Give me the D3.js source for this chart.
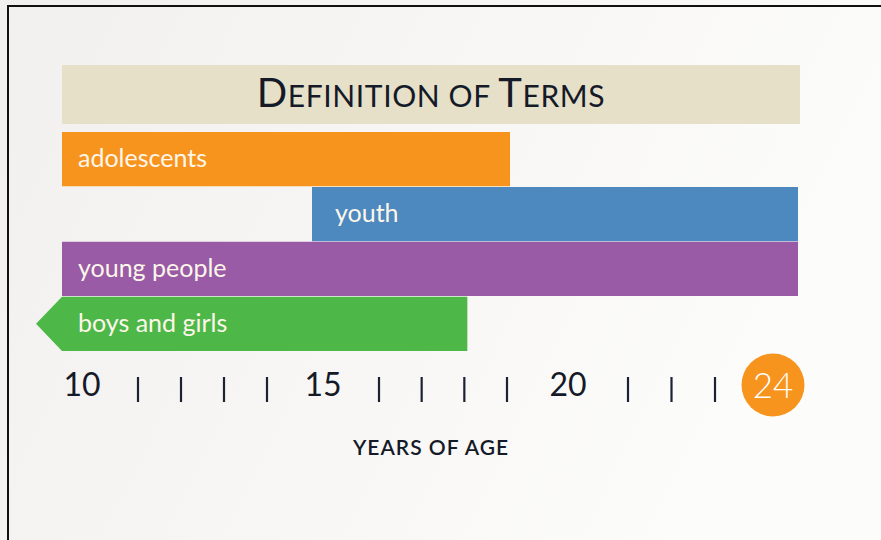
<!DOCTYPE html>
<html>
<head>
<meta charset="utf-8">
<script src="https://cdn.jsdelivr.net/npm/d3@7"></script>
<style>
  html, body { margin: 0; padding: 0; background: #fff; }
  svg { display: block; }
</style>
</head>
<body>
<div id="chart"></div>
<script>
// Terms and the age span each one covers
var terms = ["adolescents", "youth", "young people", "boys and girls"];
var startAge = [10, 15, 10, 10];
var endAge = [19, 24, 24, 18];
var openBelow = [false, false, false, true];   // "boys and girls": under 18, no lower bound
var termColors = ["#f7941e", "#4d89bf", "#995ba5", "#4db848"];

// Axis: every year gets a tick, a few get a number
var tickAges = [10, 11, 12, 13, 14, 15, 16, 17, 18, 19, 20, 21, 22, 23, 24];
var labelAges = [10, 15, 20, 24];
var highlightAge = 24;

var titleCap = ["D", "T"];
var titleRest = ["EFINITION OF ", "ERMS"];
var axisTitle = "YEARS OF AGE";

(function () {
  var W = 881, H = 540;
  var left = 62, right = 800;
  var FONT = "Lato, 'Open Sans', sans-serif";

  var svg = d3.select("#chart").append("svg")
    .attr("width", W).attr("height", H);

  var defs = svg.append("defs");
  var grad = defs.append("linearGradient").attr("id", "bg")
    .attr("x1", "0").attr("x2", "1").attr("y1", "0").attr("y2", "0.3");
  grad.append("stop").attr("offset", "0").attr("stop-color", "#f2f0ee");
  grad.append("stop").attr("offset", "1").attr("stop-color", "#fcfcfb");

  svg.append("rect").attr("width", W).attr("height", H).attr("fill", "url(#bg)");
  // frame: top and left edges only show in the picture
  svg.append("path").attr("d", "M8,540V6H881")
    .attr("fill", "none").attr("stroke", "#111").attr("stroke-width", 2);

  // the axis labels take wider slots than the plain ticks,
  // so the age scale is piecewise linear
  var x = d3.scaleLinear()
    .domain([10, 11, 14, 15, 16, 19, 20, 21, 23, 24])
    .range([82, 138, 267, 323, 379, 507, 568, 628, 715, 773]);

  var y = d3.scaleBand().domain(terms).range([132, 351]).paddingInner(0.01);

  // title band
  svg.append("rect").attr("x", left).attr("y", 65)
    .attr("width", right - left).attr("height", 59).attr("fill", "#e7e0c9");
  var title = svg.append("text")
    .attr("x", (left + right) / 2).attr("y", 107)
    .attr("text-anchor", "middle")
    .attr("font-family", FONT).attr("fill", "#151a28")
    .attr("letter-spacing", 0.6);
  titleCap.forEach(function (c, i) {
    title.append("tspan").attr("font-size", 40).text(c);
    title.append("tspan").attr("font-size", 30).text(titleRest[i]);
  });

  var xmin = d3.min(tickAges), xmax = d3.max(tickAges);
  function x0(i) { return startAge[i] === xmin ? left : x(startAge[i]) - 11; }
  function x1(i) { return endAge[i] === xmax ? right - 2 : x(endAge[i]) + 3; }

  var bars = svg.append("g").selectAll("g").data(terms).join("g");
  bars.append("path")
    .attr("fill", function (d, i) { return termColors[i]; })
    .attr("d", function (d, i) {
      var a = x0(i), b = x1(i), t = y(d), h = y.bandwidth();
      var p = d3.path();
      p.moveTo(a, t);
      p.lineTo(b, t);
      p.lineTo(b, t + h);
      p.lineTo(a, t + h);
      if (openBelow[i]) p.lineTo(a - 26, t + h / 2);
      p.closePath();
      return p.toString();
    });
  bars.append("text")
    .attr("x", function (d, i) { return x0(i) + (startAge[i] === xmin ? 16 : 23); })
    .attr("y", function (d) { return y(d) + y.bandwidth() / 2 + 8; })
    .attr("font-family", FONT).attr("font-size", 25)
    .attr("fill", "#fdf6ea")
    .text(function (d) { return d; });

  // axis: numbers at labelled ages, bars elsewhere
  var axisY = 396;
  var ax = svg.append("g");
  ax.selectAll("line").data(tickAges.filter(function (a) { return labelAges.indexOf(a) < 0; }))
    .join("line")
    .attr("x1", x).attr("x2", x)
    .attr("y1", 377).attr("y2", 402)
    .attr("stroke", "#1c2134").attr("stroke-width", 2.2);
  ax.selectAll("circle").data([highlightAge]).join("circle")
    .attr("cx", x).attr("cy", 385).attr("r", 31.5)
    .attr("fill", "#f7941e");
  ax.selectAll("text").data(labelAges).join("text")
    .attr("x", x)
    .attr("y", function (a) { return a === highlightAge ? 398 : axisY; })
    .attr("text-anchor", "middle")
    .attr("font-family", FONT)
    .attr("font-weight", function (a) { return a === highlightAge ? 300 : 400; })
    .attr("font-size", function (a) { return a === highlightAge ? 35 : 32; })
    .attr("fill", function (a) { return a === highlightAge ? "#fff" : "#151a28"; })
    .text(function (a) { return a; });

  svg.append("text")
    .attr("x", 431).attr("y", 455)
    .attr("text-anchor", "middle")
    .attr("font-family", FONT).attr("font-size", 21).attr("font-weight", 600)
    .attr("letter-spacing", 1)
    .attr("fill", "#151a28")
    .text(axisTitle);
})();
</script>
</body>
</html>
